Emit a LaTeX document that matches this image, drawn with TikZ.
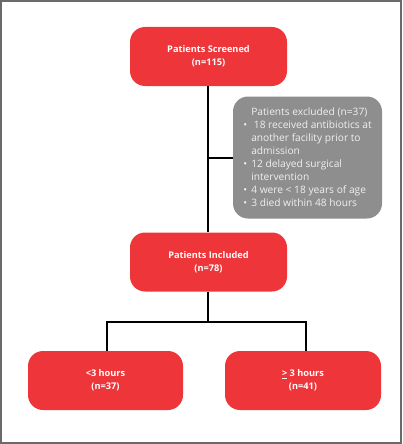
\documentclass[tikz,border=0pt]{standalone}
\usepackage{fontspec}
\setmainfont{Open Sans}
\usetikzlibrary{positioning}
\definecolor{boxred}{HTML}{EE363A}
\definecolor{boxgray}{HTML}{8E8E8E}
\definecolor{txtgray}{HTML}{F0F0F0}
\definecolor{framegray}{HTML}{6A6A6A}
\tikzset{
  redbox/.style={draw=none, fill=boxred, rounded corners=15pt, minimum width=157pt, minimum height=59pt,
    align=center, text=white, font=\fontsize{9.2}{13}\selectfont\bfseries, inner sep=0pt},
  graybox/.style={draw=none, fill=boxgray, rounded corners=15pt, minimum width=149pt, minimum height=122pt,
    align=left, text=txtgray, font=\fontsize{10.2}{13}\selectfont, inner sep=0pt},
  link/.style={draw=black, line width=2pt},
  frame/.style={draw=framegray, line width=1.6pt}
}
\newcommand{\bul}{\makebox[8pt][l]{•}}
\begin{document}
\begin{tikzpicture}[x=1pt, y=-1pt]
\useasboundingbox (0,0) rectangle (402,444);
\draw[frame] (0.8,0.8) rectangle (401.2,443.2);
\node[redbox] (scr) at (208.5,56.5) {Patients Screened\\(n=115)};
\node[graybox] (exc) at (307.5,157.5) {\hspace*{8pt}Patients excluded (n=37)\\
\bul\ 18 received antibiotics at\\
\hspace*{8pt}another facility prior to\\
\hspace*{8pt}admission\\
\bul 12 delayed surgical\\
\hspace*{8pt}intervention\\
\bul 4 were < 18 years of age\\
\bul 3 died within 48 hours};
\node[redbox] (inc) at (208.5,262) {Patients Included\\(n=78)};
\node[redbox, minimum width=155pt] (lt) at (105.5,380.5) {<3 hours\\(n=37)};
\node[redbox, minimum width=156pt] (ge) at (303,380.5) {\underline{>} 3 hours\\(n=41)};
\draw[link] ([xshift=-0.5pt]scr.south) -- ([xshift=-0.5pt]inc.north);
\coordinate (mid) at ([xshift=-0.5pt]scr.south |- exc.west);
\draw[link] (mid) -- (exc.west);
\coordinate (split) at (208,322);
\draw[link] ([xshift=-0.5pt]inc.south) -- (split);
\draw[link] (split) -| ([xshift=1.5pt]lt.north);
\draw[link] (split) -| ([xshift=3pt]ge.north);
\end{tikzpicture}
\end{document}
